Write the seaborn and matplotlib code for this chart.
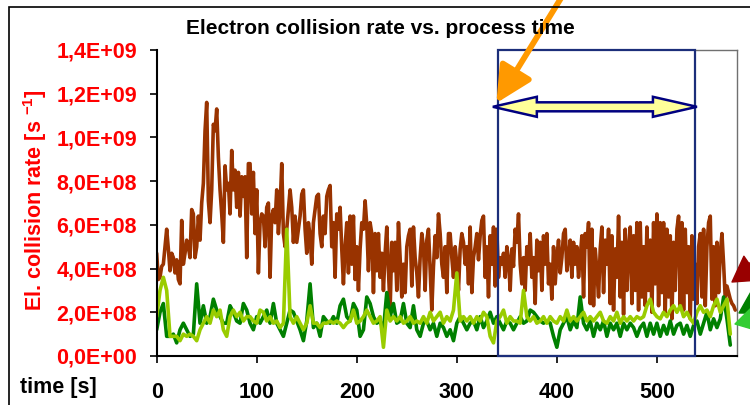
import numpy as np
import matplotlib
matplotlib.use("Agg")
import matplotlib.pyplot as plt
import matplotlib.transforms as mtransforms
from matplotlib.patches import Rectangle, Polygon, FancyArrowPatch
from matplotlib.ticker import FuncFormatter, MultipleLocator
import seaborn as sns

# ---------------- data (values in units of 1E+08 s^-1) ----------------
brown_dt = 5 / 3          # seconds between brown samples
green_dt = 10 / 3         # seconds between green samples

brown_rate = [
    4.7, 3.5, 3.6, 4.1, 4.2, 5.0, 5.8, 4.9, 3.9, 4.7, 4.5, 3.8, 4.4, 3.5, 3.3, 6.2, 4.2, 4.7, 5.3, 5.0,
    4.5, 6.7, 6.5, 4.5, 5.0, 6.4, 5.3, 7.0, 7.9, 10.3, 11.6, 7.1, 6.1, 7.6, 10.6, 10.3, 11.3, 9.1, 7.6, 6.5,
    5.2, 8.7, 7.6, 7.9, 6.5, 9.4, 7.6, 8.5, 6.8, 8.4, 6.4, 8.2, 7.3, 8.2, 4.5, 8.8,
    8.8, 6.5, 8.4, 5.6, 7.6, 3.8, 6.1, 6.5, 6.4, 5.0, 6.8, 7.0, 3.6, 6.4, 6.7, 6.1, 7.6, 5.6, 6.8, 8.8,
    5.6, 5.0, 5.8, 6.7, 7.6, 6.8, 5.2, 6.4, 5.2, 5.8, 6.4, 7.4, 7.6, 5.8, 4.7, 6.1, 5.5, 4.2, 6.1, 6.7,
    7.3, 7.4, 5.6, 5.0, 6.4, 5.6, 7.3, 7.6, 7.8, 5.0, 6.1, 3.6, 6.5, 5.8, 6.8, 4.9, 3.3, 5.0, 6.1, 3.8,
    6.4, 4.2, 6.4, 3.5, 5.0, 3.0, 4.9, 6.1, 5.8, 7.1, 6.0, 3.9, 6.1, 5.6, 2.9, 5.6, 3.9, 5.6, 3.6, 4.7,
    3.0, 4.7, 5.9, 3.9, 2.1, 5.2, 3.9, 5.2, 3.0, 6.1, 4.5, 2.7, 4.2, 2.9, 5.0, 5.5, 5.8, 3.2, 5.9, 4.5,
    3.8, 2.7, 4.5, 5.6, 5.0, 3.0, 5.3, 5.8, 3.9, 2.1, 4.1, 5.5, 4.5, 6.5, 5.6, 4.2, 3.6, 5.0, 2.9, 5.6,
    5.6, 4.5, 3.6, 5.0, 4.2, 3.0, 4.9, 5.6, 5.2, 4.2, 5.0, 3.3, 5.9, 2.9, 4.5, 5.0, 5.6, 4.4, 5.5, 6.2,
    6.4, 3.6, 5.0, 2.7, 5.5, 4.2, 5.9, 3.2, 5.8, 3.6, 4.5, 4.2, 4.7, 3.6, 5.0, 4.4, 3.0, 4.9, 4.1, 5.8,
    5.2, 6.5, 4.2, 3.3, 4.5, 3.0, 5.0, 4.2, 5.6, 3.6, 4.5, 2.4, 5.3, 3.9, 5.2, 3.0, 5.5, 4.2, 5.6, 3.3,
    4.2, 2.6, 5.0, 3.3, 4.5, 5.3, 3.8, 4.5, 5.6, 5.8, 3.9, 4.5, 5.3, 3.6, 5.2, 4.2, 5.0, 3.6, 4.5, 5.5,
    2.7, 5.6, 5.0, 6.1, 2.4, 5.8, 2.3, 4.9, 3.9, 2.7, 4.9, 5.9, 2.9, 5.3, 4.2, 5.8, 2.4, 5.5, 2.1, 4.9,
    3.6, 6.4, 2.7, 5.2, 1.9, 5.8, 3.0, 4.9, 5.9, 2.4, 5.5, 3.0, 6.1, 2.1,
    6.1, 2.7, 5.0, 2.3, 5.9, 3.0, 5.3, 2.0, 6.1, 3.3, 6.5, 2.3, 6.1, 2.9, 6.1, 2.0, 5.8, 2.7, 5.5, 1.7,
    5.2, 3.0, 5.8, 6.4, 2.3, 6.1, 2.1, 5.8, 2.9, 5.0, 1.7, 5.5, 2.6, 4.2, 2.4, 5.0, 5.6, 2.7, 5.8, 2.3,
    5.0, 6.1, 6.4, 2.6, 5.0, 2.3, 5.2, 2.9, 4.7, 5.6, 4.2, 2.6, 3.2, 2.9, 2.6, 2.4, 2.3, 2.1,
]

dark_green_rate = [
    1.2, 2.0, 2.4, 0.9, 0.9, 1.0, 0.6, 1.2, 1.5, 1.2, 0.9, 1.0, 3.3, 1.5, 2.3, 1.5, 1.8, 2.6, 2.1, 1.8,
    1.5, 1.5, 2.3, 2.0, 1.6, 1.5, 2.4, 2.1,
    1.5, 1.2, 1.8, 1.5, 1.8, 2.1, 1.5, 2.4, 1.5, 1.2, 0.9, 1.5, 2.1, 2.0, 1.6, 1.2, 0.7, 1.6, 3.3, 1.3,
    1.5, 0.9, 1.8, 1.6, 1.5, 1.8, 1.5, 2.3, 2.6, 1.8,
    1.6, 2.4, 2.1, 0.9, 1.2, 2.7, 2.4, 1.8, 1.5, 1.6, 1.2, 2.9, 1.8, 2.4, 1.5, 1.6, 2.4, 1.5, 1.3, 2.3,
    1.2, 0.9, 1.5, 1.6, 1.2, 1.5, 0.9, 1.5, 1.3, 0.9,
    1.2, 0.7, 1.5, 1.8, 1.5, 1.2, 1.5, 1.6, 1.2, 1.8, 1.3, 1.6, 2.0, 1.5, 1.8, 1.5, 1.2, 1.6, 1.5, 1.2,
    1.5, 1.8, 1.5, 1.6, 2.1, 2.0, 1.8, 1.6, 1.5, 1.6,
    1.5, 0.9, 0.4, 1.2, 1.5, 1.8, 1.2, 1.6, 1.3, 2.7, 1.5, 1.2, 1.6, 0.9, 1.5, 1.2, 1.6, 0.9, 1.5, 1.2,
    1.5, 0.9, 1.5, 1.2, 1.5, 1.3, 0.9,
    1.3, 1.5, 0.9, 1.5, 1.0, 1.5, 0.9, 1.4, 1.0, 1.6, 1.0, 1.4, 1.5, 1.0, 1.4, 0.9, 1.4, 1.6, 1.0, 1.5,
    2.0, 1.2, 1.7, 1.3, 1.7, 2.7, 1.7, 0.5,
]

yellow_green_rate = [
    1.8, 3.0, 3.6, 3.0, 0.9, 0.9, 0.9, 0.7, 1.0, 0.9, 1.0, 0.9, 0.7, 1.2, 1.5, 1.8, 1.5, 2.1, 1.8, 2.1,
    1.2, 0.9, 1.8, 2.1, 1.8, 2.0, 1.6, 1.8,
    1.8, 1.6, 1.5, 2.1, 2.0, 1.6, 1.8, 1.5, 1.6, 1.3, 1.5, 5.8, 1.8, 1.5, 1.8, 1.5, 1.2, 1.5, 2.3, 1.5,
    1.5, 1.3, 1.5, 1.5, 1.6, 1.5, 1.6, 1.5, 1.3, 1.5,
    1.6, 2.1, 1.5, 1.6, 1.8, 2.1, 1.8, 1.5, 1.6, 1.8, 0.4, 2.1, 1.6, 1.8, 1.6, 1.8, 1.5, 1.6, 1.8, 1.5,
    1.6, 1.5, 1.8, 1.5, 2.0, 1.6, 1.8, 2.0, 1.5, 1.8,
    1.6, 2.1, 3.8, 1.6, 1.8, 1.6, 1.8, 1.5, 1.8, 1.6, 2.0, 1.8, 0.9, 0.6, 1.6, 1.8, 2.1, 1.5, 1.8, 1.6,
    1.6, 1.5, 3.0, 1.8, 1.6, 1.8, 1.5, 1.6, 1.8, 1.5,
    1.8, 1.6, 1.5, 1.8, 1.6, 2.1, 1.6, 1.8, 1.6, 1.8, 2.0, 1.6, 1.8, 1.6, 1.8, 2.0, 1.6, 1.5, 1.8, 1.6,
    2.0, 1.5, 1.8, 1.6, 1.8, 1.6, 1.8,
    1.7, 1.8, 2.3, 2.6, 2.0, 1.8, 1.7, 2.0, 1.8, 2.1, 2.3, 2.0, 2.3, 1.8, 2.0, 1.7, 1.5, 2.0, 2.3, 2.0,
    2.1, 1.8, 2.3, 2.6, 2.0, 2.3, 2.6, 1.0,
]

x_ticks = [0, 100, 200, 300, 400, 500]
title = "Electron collision rate vs. process time"
y_label = r"El. collision rate [s $^{\mathbf{-1}}$]"
x_label = "time [s]"

# highlighted window (seconds) and the double arrow level
box_start, box_end = 341, 537.6
arrow_x0, arrow_x1, arrow_level = 336, 540, 11.4e8

# ---------------- style ----------------
sns.set_theme(style="white")
plt.rcParams["font.family"] = ["Liberation Sans", "DejaVu Sans"]
plt.rcParams["mathtext.fontset"] = "custom"
plt.rcParams["mathtext.rm"] = "Liberation Sans"
plt.rcParams["mathtext.bf"] = "Liberation Sans:bold"

BROWN = "#993300"
DGREEN = "#008000"
YGREEN = "#99CC00"
RED = "#FF0000"

fig = plt.figure(figsize=(7.5, 4.05), dpi=100)
fig.patch.set_facecolor("white")
ax = fig.add_axes([0.2089, 0.121, 0.7737, 0.7556])

t_b = np.arange(len(brown_rate)) * brown_dt
t_g = np.arange(len(dark_green_rate)) * green_dt
t_y = np.arange(len(yellow_green_rate)) * green_dt

sns.lineplot(x=t_b, y=np.array(brown_rate) * 1e8, ax=ax, color=BROWN,
             linewidth=2.6, estimator=None, sort=False)
sns.lineplot(x=t_g, y=np.array(dark_green_rate) * 1e8, ax=ax, color=DGREEN,
             linewidth=2.6, estimator=None, sort=False)
sns.lineplot(x=t_y, y=np.array(yellow_green_rate) * 1e8, ax=ax, color=YGREEN,
             linewidth=2.6, estimator=None, sort=False)

ax.set_xlim(0, 580)
ax.set_ylim(0, 1.4e9)
ax.set_xticks(x_ticks)
ax.yaxis.set_major_locator(MultipleLocator(2e8))
ax.yaxis.set_major_formatter(FuncFormatter(lambda v, p: f"{v:.1E}".replace(".", ",")))
ax.set_xlabel("")

ax.tick_params(axis="y", direction="out", length=5, width=1.2, color="black",
               labelsize=15.5, labelcolor=RED, pad=9, left=True)
ax.tick_params(axis="x", direction="out", length=5, width=1.2, color="black",
               labelsize=15.5, labelcolor="black", pad=14, bottom=True)
for lab in ax.get_yticklabels() + ax.get_xticklabels():
    lab.set_fontweight("bold")

ax.set_ylabel(y_label, color=RED, fontsize=15.5, fontweight="bold", va="center")
ax.yaxis.set_label_coords(-0.2097, 0.51)

for s in ["left", "bottom"]:
    ax.spines[s].set_color("black")
    ax.spines[s].set_linewidth(1.5)
ax.spines["right"].set_color("#707070")
ax.spines["right"].set_linewidth(1.0)
ax.spines["top"].set_color("#707070")
ax.spines["top"].set_linewidth(1.0)
ax.spines["top"].set_bounds(box_end, 580)

fig.text(380 / 750, 1 - 29 / 405, title, ha="center", va="center",
         fontsize=15, fontweight="bold", color="black")
fig.text(20 / 750, 1 - 388 / 405, x_label, ha="left", va="center",
         fontsize=15.5, fontweight="bold", color="black")

# highlighted window
blend = mtransforms.blended_transform_factory(ax.transData, ax.transAxes)
ax.add_patch(Rectangle((box_start, 0), box_end - box_start, 1, transform=blend,
                       fill=False, edgecolor="#1C2E7A", linewidth=1.6,
                       zorder=6, clip_on=False))

# block double arrow (sizes in pixels)
(px0, py), (px1, _) = ax.transData.transform([(arrow_x0, arrow_level), (arrow_x1, arrow_level)])
shaft_h, head_h, head_len = 9, 20, 44
pts = [(px0, py), (px0 + head_len, py + head_h / 2), (px0 + head_len, py + shaft_h / 2),
       (px1 - head_len, py + shaft_h / 2), (px1 - head_len, py + head_h / 2), (px1, py),
       (px1 - head_len, py - head_h / 2), (px1 - head_len, py - shaft_h / 2),
       (px0 + head_len, py - shaft_h / 2), (px0 + head_len, py - head_h / 2)]
ax.add_patch(Polygon(pts, closed=True, transform=mtransforms.IdentityTransform(),
                     facecolor="#FFFF99", edgecolor="#000080", linewidth=1.8,
                     joinstyle="miter", zorder=7, clip_on=False))

# orange pointer arrow
ax.annotate("", xy=(339.5, 11.57e8), xycoords="data",
            xytext=(566 / 750, 1 + 10 / 405), textcoords="figure fraction",
            arrowprops=dict(arrowstyle="-|>,head_length=1.0,head_width=0.5",
                            color="#FF9900", lw=4.2, mutation_scale=22,
                            shrinkA=0, shrinkB=0),
            annotation_clip=False, zorder=8)

# arrows entering from the right edge (legend pointers)
def fig_arrow(tail, tip, color):
    fa = FancyArrowPatch((tail[0] / 750, 1 - tail[1] / 405), (tip[0] / 750, 1 - tip[1] / 405),
                         transform=fig.transFigure,
                         arrowstyle="simple,head_length=1.1,head_width=1.3,tail_width=0.5",
                         mutation_scale=16, color=color, shrinkA=0, shrinkB=0)
    fig.add_artist(fa)

fig_arrow((800, 235), (732, 282), "#990000")
fig_arrow((805, 275), (739, 313), DGREEN)
fig_arrow((810, 305), (735, 324), "#33CC33")

# outer chart frame
fig.add_artist(Rectangle((9 / 750, -0.1), 1.2, 1 - 7 / 405 + 0.1, transform=fig.transFigure,
                         fill=False, edgecolor="black", linewidth=1.2))

fig.savefig("out.png", dpi=100, facecolor="white")
